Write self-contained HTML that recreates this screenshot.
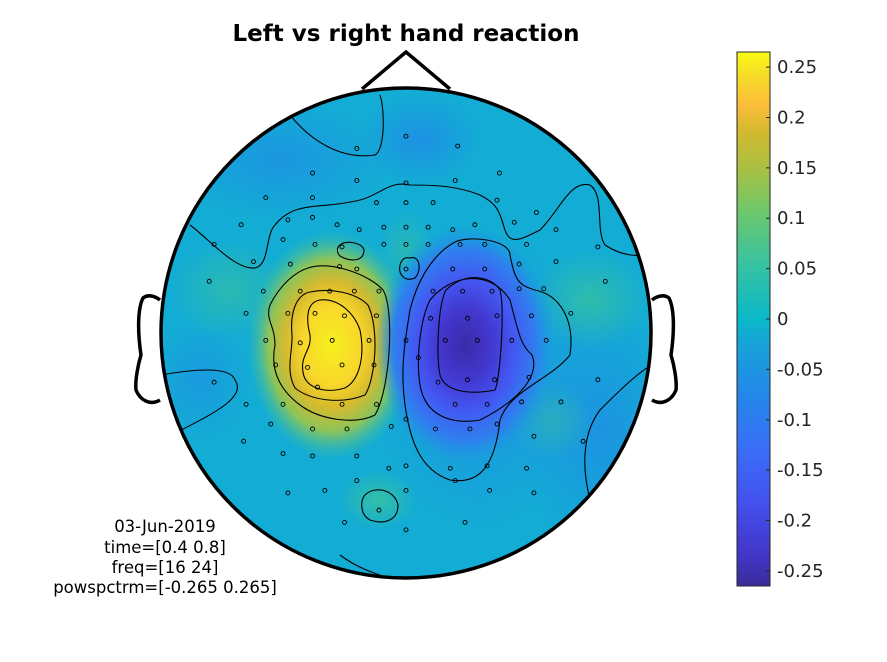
<!DOCTYPE html>
<html><head><meta charset="utf-8"><style>
html,body{margin:0;padding:0;background:#fff;}
svg{display:block;font-family:"DejaVu Sans","Liberation Sans",sans-serif;}
</style></head><body>
<svg id="fig" width="887" height="662" viewBox="0 0 887 662">
<defs>
<linearGradient id="parula" x1="0" y1="1" x2="0" y2="0">
<stop offset="0" stop-color="#3a2c9a"/>
<stop offset="0.06" stop-color="#4236c8"/>
<stop offset="0.16" stop-color="#4352ef"/>
<stop offset="0.26" stop-color="#3a6ff8"/>
<stop offset="0.36" stop-color="#2288e8"/>
<stop offset="0.45" stop-color="#18a2da"/>
<stop offset="0.5" stop-color="#0bb8c8"/>
<stop offset="0.6" stop-color="#36c2a2"/>
<stop offset="0.7" stop-color="#6cc86c"/>
<stop offset="0.78" stop-color="#a8c043"/>
<stop offset="0.85" stop-color="#d2b92e"/>
<stop offset="0.9" stop-color="#fbbd3a"/>
<stop offset="0.96" stop-color="#f6de26"/>
<stop offset="1" stop-color="#f9fb15"/>
</linearGradient>
<radialGradient id="yel" cx="0.5" cy="0.5" r="0.5">
<stop offset="0" stop-color="#f6f01e"/>
<stop offset="0.35" stop-color="#f8d62a"/>
<stop offset="0.55" stop-color="#d6ba2e"/>
<stop offset="0.75" stop-color="#8cc45a"/>
<stop offset="1" stop-color="#36c2a2" stop-opacity="0"/>
</radialGradient>
<radialGradient id="blu" cx="0.5" cy="0.5" r="0.5">
<stop offset="0" stop-color="#3b2aa8"/>
<stop offset="0.3" stop-color="#4238d0"/>
<stop offset="0.55" stop-color="#4358f2"/>
<stop offset="0.8" stop-color="#2f80ee"/>
<stop offset="1" stop-color="#1a9ae0" stop-opacity="0"/>
</radialGradient>
<radialGradient id="grn" cx="0.5" cy="0.5" r="0.5">
<stop offset="0" stop-color="#3cc49a"/>
<stop offset="1" stop-color="#3cc49a" stop-opacity="0"/>
</radialGradient>
<radialGradient id="dblu" cx="0.5" cy="0.5" r="0.5">
<stop offset="0" stop-color="#1f8de6"/>
<stop offset="1" stop-color="#1f8de6" stop-opacity="0"/>
</radialGradient>
<clipPath id="headclip"><circle cx="406" cy="333" r="245"/></clipPath>
</defs>

<text x="406" y="41" text-anchor="middle" font-size="23" font-weight="bold">Left vs right hand reaction</text>

<g clip-path="url(#headclip)">
<rect x="150" y="80" width="520" height="510" fill="#13acd4"/>
<ellipse cx="280" cy="160" rx="110" ry="60" fill="url(#dblu)" opacity="0.7"/>
<ellipse cx="420" cy="140" rx="60" ry="45" fill="url(#dblu)" opacity="0.9"/>
<ellipse cx="600" cy="430" rx="80" ry="130" fill="url(#dblu)" opacity="0.8"/>
<ellipse cx="200" cy="380" rx="50" ry="60" fill="url(#dblu)" opacity="0.6"/>
<ellipse cx="590" cy="300" rx="60" ry="50" fill="url(#grn)" opacity="0.7"/>
<ellipse cx="230" cy="290" rx="60" ry="50" fill="url(#grn)" opacity="0.6"/>
<ellipse cx="378" cy="500" rx="40" ry="30" fill="url(#grn)" opacity="0.8"/>
<ellipse cx="550" cy="420" rx="40" ry="40" fill="url(#grn)" opacity="0.6"/>
<ellipse cx="406" cy="250" rx="30" ry="40" fill="url(#grn)" opacity="0.5"/>
<ellipse cx="480" cy="380" rx="110" ry="150" fill="url(#dblu)" opacity="0.8"/>
<ellipse cx="332" cy="345" rx="85" ry="115" fill="url(#yel)"/>
<ellipse cx="465" cy="345" rx="90" ry="120" fill="url(#blu)"/>
<g fill="none" stroke="#000" stroke-width="1.1">
<path d="M308,268 C330,260 370,275 383,290 C395,310 390,390 375,415 C355,425 320,420 300,405 C280,390 270,370 275,345 C275,325 265,320 270,305 C280,285 295,272 308,268 Z"/>
<path d="M310,292 C330,288 355,292 368,305 C380,330 375,380 365,395 C340,405 310,400 295,388 C285,370 293,350 292,335 C290,315 295,295 310,292 Z"/>
<path d="M320,300 C340,298 355,315 360,330 C365,355 360,380 345,388 C325,394 305,388 303,372 C300,355 312,350 310,335 C305,315 308,302 320,300 Z"/>
<path d="M446,290 C465,272 490,275 500,290 C505,310 500,380 495,390 C470,395 445,392 440,375 C436,355 438,305 446,290 Z"/>
<path d="M430,300 C450,275 490,268 510,300 C518,330 520,345 532,355 C540,375 520,400 480,420 C450,425 425,415 420,385 C416,360 420,320 430,300 Z"/>
<path d="M455,242 C470,235 510,240 510,255 C515,280 518,285 535,290 C560,295 575,320 570,355 C550,380 510,390 500,420 C495,465 480,485 450,480 C420,470 410,440 405,405 C400,370 405,340 410,310 C420,270 440,250 455,242 Z"/>
<path d="M410,258 C420,255 422,270 415,278 C405,282 398,275 400,265 C402,258 406,257 410,258 Z"/>
<path d="M340,245 C345,240 362,242 364,250 C364,262 350,262 340,256 C336,252 337,247 340,245 Z"/>
<path d="M365,495 C375,485 395,490 398,505 C398,520 385,525 370,520 C360,515 360,500 365,495 Z"/>
<path d="M190,225 C210,240 235,270 255,268 C270,265 265,235 275,225 C295,200 320,210 360,200 C380,195 390,180 410,185 C430,185 455,185 480,195 C500,205 500,215 505,230 C510,245 520,240 540,230 C560,210 570,180 590,185 C605,195 595,230 605,245 C620,255 640,260 660,250"/>
<path d="M380,95 C385,110 385,150 375,155 C340,160 310,140 290,115"/>
<path d="M160,375 C190,370 230,365 235,380 C245,395 225,410 160,440"/>
<path d="M340,555 C360,570 380,575 395,580"/>
<path d="M660,360 C640,370 620,390 600,410 C585,430 580,460 590,500"/>
</g>
<g id="electrodes"></g>
</g>

<g fill="none" stroke="#000" stroke-width="3.5">
<circle cx="406" cy="333" r="245"/>
<polyline points="362,89 406,52 450,89"/>
<path d="M160,300 C155,296 148,294 143,298 C137,310 138,335 141,355 C138,365 135,380 136,390 C140,400 150,406 160,400"/>
<path d="M652,300 C657,296 664,294 669,298 C675,310 674,335 671,355 C674,365 677,380 676,390 C672,400 662,406 652,400"/>
</g>

<g font-size="16.5" text-anchor="middle">
<text x="165" y="532">03-Jun-2019</text>
<text x="165" y="553">time=[0.4 0.8]</text>
<text x="165" y="573">freq=[16 24]</text>
<text x="165" y="593">powspctrm=[-0.265 0.265]</text>
</g>

<g id="colorbar">
<rect x="737" y="52" width="33" height="534" fill="url(#parula)" stroke="#262626" stroke-width="1"/>
</g>
</svg>
<script>
const cbTicks = [0.25,0.2,0.15,0.1,0.05,0,-0.05,-0.1,-0.15,-0.2,-0.25];
const cbLabels = ["0.25","0.2","0.15","0.1","0.05","0","-0.05","-0.1","-0.15","-0.2","-0.25"];
const cbMin = -0.265, cbMax = 0.265;
// electrode positions in normalized head coordinates (radius = 1)
const elecX = [0,-0.2,0.21,-0.38,0.38,-0.2,0,0.2,-0.57,-0.38,-0.12,0,0.11,0.37,0.53,-0.67,-0.48,-0.38,-0.28,-0.19,-0.09,0,0.09,0.19,0.28,0.44,0.61,-0.78,-0.5,-0.37,-0.26,-0.09,0,0.09,0.22,0.32,0.49,0.78,-0.62,-0.47,-0.27,-0.2,0,0.19,0.32,0.46,0.61,-0.8,-0.58,-0.43,-0.31,-0.21,-0.11,0.11,0.23,0.35,0.46,0.56,0.81,-0.65,-0.48,-0.37,-0.25,-0.12,0.1,0.25,0.37,0.51,0.67,-0.57,-0.43,-0.3,-0.15,0,0.16,0.29,0.43,0.57,-0.53,-0.4,-0.26,-0.13,0.05,0.13,0.25,0.36,0.5,-0.78,0.78,-0.65,-0.5,-0.36,-0.26,-0.12,-0.06,0.2,0.33,0.47,0.63,-0.55,-0.38,-0.24,0,0.12,0.26,0.37,0.52,-0.66,-0.5,-0.38,-0.2,-0.07,0,0.18,0.33,0.49,0.72,-0.48,-0.33,-0.2,0,0.2,0.34,0.52,-0.11,-0.25,0,0.24];
const elecY = [-0.8,-0.75,-0.76,-0.65,-0.65,-0.62,-0.61,-0.62,-0.55,-0.55,-0.53,-0.53,-0.53,-0.54,-0.49,-0.44,-0.46,-0.47,-0.44,-0.42,-0.43,-0.43,-0.43,-0.42,-0.44,-0.45,-0.42,-0.36,-0.38,-0.36,-0.35,-0.36,-0.36,-0.36,-0.36,-0.36,-0.36,-0.35,-0.29,-0.28,-0.27,-0.26,-0.26,-0.26,-0.26,-0.28,-0.29,-0.21,-0.17,-0.17,-0.17,-0.17,-0.17,-0.17,-0.17,-0.17,-0.18,-0.18,-0.21,-0.08,-0.08,-0.08,-0.07,-0.07,-0.06,-0.06,-0.07,-0.07,-0.08,0.03,0.04,0.03,0.03,0.03,0.03,0.03,0.03,0.03,0.13,0.14,0.13,0.13,0.1,0.2,0.19,0.19,0.18,0.2,0.19,0.29,0.29,0.22,0.29,0.29,0.38,0.29,0.29,0.28,0.28,0.37,0.39,0.39,0.35,0.39,0.39,0.37,0.42,0.44,0.49,0.5,0.5,0.55,0.54,0.55,0.54,0.55,0.44,0.65,0.64,0.6,0.64,0.6,0.64,0.65,0.72,0.77,0.8,0.77];
const cx = 406, cy = 333, R = 246;
function hx(v){ return cx + v*R; }
function hy(v){ return cy + v*R; }
function cbY(v){ return 52 + (cbMax - v)/(cbMax - cbMin)*534; }
const NS = "http://www.w3.org/2000/svg";
const eg = document.getElementById("electrodes");
for (let i = 0; i < elecX.length; i++) {
  const c = document.createElementNS(NS, "circle");
  c.setAttribute("cx", hx(elecX[i]));
  c.setAttribute("cy", hy(elecY[i]));
  c.setAttribute("r", 2);
  c.setAttribute("fill", "none");
  c.setAttribute("stroke", "#000");
  c.setAttribute("stroke-width", "0.9");
  
  
  eg.appendChild(c);
}
const cb = document.getElementById("colorbar");
for (let i = 0; i < cbTicks.length; i++) {
  const y = cbY(cbTicks[i]);
  const t = document.createElementNS(NS, "line");
  t.setAttribute("x1", 766); t.setAttribute("x2", 770);
  t.setAttribute("y1", y); t.setAttribute("y2", y);
  t.setAttribute("stroke", "#262626");
  
  
  cb.appendChild(t);
  const l = document.createElementNS(NS, "text");
  l.setAttribute("x", 777);
  l.setAttribute("y", y + 6);
  l.setAttribute("font-size", "18");
  l.setAttribute("fill", "#262626");
  l.textContent = cbLabels[i];
  
  
  cb.appendChild(l);
}
</script>
</body></html>
